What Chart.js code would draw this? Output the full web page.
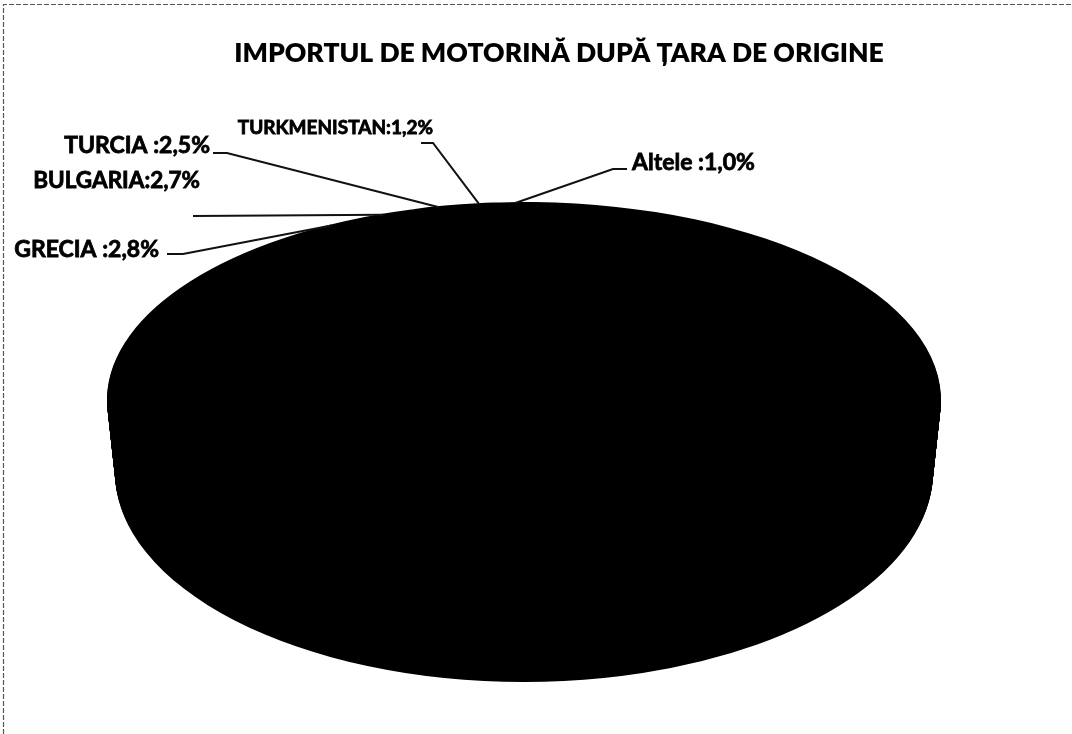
<!DOCTYPE html>
<html><head><meta charset="utf-8">
<script src="https://cdn.jsdelivr.net/npm/chart.js@4/dist/chart.umd.min.js"></script>
<style>html,body{margin:0;padding:0;background:#fff}#wrap{width:1072px;height:734px}</style>
</head><body><div id="wrap"><canvas id="c" width="1072" height="734"></canvas></div>
<script>
// ---- data ----
const titleText = 'IMPORTUL DE MOTORINĂ DUPĂ ȚARA DE ORIGINE';
const categories = ['', 'GRECIA', 'BULGARIA', 'TURCIA', 'TURKMENISTAN', 'Altele'];
const shares = [89.8, 2.8, 2.7, 2.5, 1.2, 1.0];
const separators = ['', ' :', ':', ' :', ':', ' :'];

// ---- style / layout ----
// top face ellipse and (perspective) bottom face ellipse
const PIE = {cx: 524, cy: 400, rx: 417, ry: 198, depth: 72, rxBottom: 409, ryBottom: 210};
const labelLayout = [
  null,
  {x: 159, y: 257, align: 'right', size: 23, at: 0.75, pts: [[167, 254], [183, 254]]},
  {x: 200, y: 188, align: 'right', size: 22.5, at: 0.55, pts: [[193, 216]]},
  {x: 210, y: 153, align: 'right', size: 23, at: 0.4, pts: [[213, 153], [227, 153]]},
  {x: 433, y: 134, align: 'right', size: 19, at: 0.05, pts: [[421, 143], [433, 143]]},
  {x: 632, y: 170, align: 'left', size: 23, at: 0.25, pts: [[627, 169], [613, 169]]}
];
const FONT = 'Lato, "Open Sans", sans-serif';

function labelText(i) {
  return categories[i] + separators[i] + shares[i].toFixed(1).replace('.', ',') + '%';
}
function layerGeom(d) {
  const t = d / PIE.depth;
  return {
    cy: PIE.cy + d,
    rx: PIE.rx + (PIE.rxBottom - PIE.rx) * t,
    ry: PIE.ry + (PIE.ryBottom - PIE.ry) * t
  };
}
function applyPieTransform(ctx, arc, d) {
  const g = layerGeom(d);
  ctx.translate(PIE.cx, g.cy);
  ctx.scale(g.rx / arc.outerRadius, g.ry / arc.outerRadius);
  ctx.translate(-arc.x, -arc.y);
}
function toScreen(arc, px, py) {
  return [PIE.cx + (px - arc.x) * PIE.rx / arc.outerRadius,
          PIE.cy + (py - arc.y) * PIE.ry / arc.outerRadius];
}

const framePlugin = {
  id: 'frame',
  beforeDraw(chart) {
    const ctx = chart.ctx;
    ctx.save();
    ctx.fillStyle = '#fff';
    ctx.fillRect(0, 0, chart.width, chart.height);
    ctx.strokeStyle = '#555';
    ctx.lineWidth = 1.2;
    ctx.setLineDash([5, 2]);
    ctx.beginPath();
    ctx.moveTo(3.5, chart.height);
    ctx.lineTo(3.5, 4.5);
    ctx.lineTo(chart.width, 4.5);
    ctx.stroke();
    ctx.restore();
  }
};

const pie3dPlugin = {
  id: 'pie3d',
  beforeDatasetsDraw(chart) {
    const ctx = chart.ctx;
    const meta = chart.getDatasetMeta(0);
    const a0 = meta.data[0];
    for (let d = PIE.depth; d > 0; d -= 1) {
      ctx.save();
      applyPieTransform(ctx, a0, d);
      meta.data.forEach(el => el.draw(ctx));
      ctx.restore();
    }
    ctx.save();
    applyPieTransform(ctx, a0, 0);
  },
  afterDatasetsDraw(chart) {
    chart.ctx.restore();
  }
};

const labelPlugin = {
  id: 'sliceLabels',
  afterDraw(chart) {
    const ctx = chart.ctx;
    const meta = chart.getDatasetMeta(0);
    ctx.save();
    meta.data.forEach((arc, i) => {
      const L = labelLayout[i];
      if (!L) return;
      const ang = arc.startAngle + (arc.endAngle - arc.startAngle) * L.at;
      const r = arc.outerRadius * 0.995;
      const a = toScreen(arc, arc.x + Math.cos(ang) * r, arc.y + Math.sin(ang) * r);
      ctx.strokeStyle = '#111';
      ctx.lineWidth = 2;
      ctx.beginPath();
      L.pts.forEach((p, k) => k ? ctx.lineTo(p[0], p[1]) : ctx.moveTo(p[0], p[1]));
      ctx.lineTo(a[0], a[1]);
      ctx.stroke();
      ctx.fillStyle = '#000';
      ctx.strokeStyle = '#000';
      ctx.lineWidth = 0.8;
      ctx.font = 'bold ' + L.size + 'px ' + FONT;
      ctx.textAlign = L.align;
      ctx.textBaseline = 'alphabetic';
      ctx.fillText(labelText(i), L.x, L.y);
      ctx.strokeText(labelText(i), L.x, L.y);
    });
    ctx.restore();
  }
};

new Chart(document.getElementById('c'), {
  type: 'pie',
  data: {
    labels: categories,
    datasets: [{
      data: shares,
      backgroundColor: '#000',
      borderWidth: 0,
      clip: false
    }]
  },
  options: {
    responsive: false,
    animation: false,
    events: [],
    rotation: 1.5,
    layout: {padding: {left: 46}},
    plugins: {
      legend: {display: false},
      tooltip: {enabled: false},
      title: {
        display: true,
        text: titleText,
        color: '#000',
        font: {family: FONT, size: 26.5, weight: 800},
        padding: {top: 38, bottom: 10}
      }
    }
  },
  plugins: [framePlugin, pie3dPlugin, labelPlugin]
});
</script>
</body></html>
